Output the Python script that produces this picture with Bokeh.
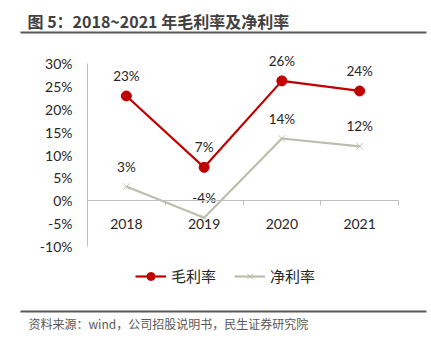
from bokeh.plotting import figure
from bokeh.models import (Range1d, LinearAxis, FixedTicker, Label, BoxAnnotation,
                          Legend, LegendItem, ColumnDataSource, CustomJSTickFormatter)
from bokeh.core.properties import value
from bokeh.embed import file_html
from bokeh.resources import INLINE

years = ["2018", "2019", "2020", "2021"]
gross_margin = [22.9, 7.3, 26.2, 24.0]
net_margin = [3.1, -3.7, 13.6, 11.9]
gross_labels = ["23%", "7%", "26%", "24%"]
net_labels = ["3%", "-4%", "14%", "12%"]
y_ticks = [-10, -5, 0, 5, 10, 15, 20, 25, 30]
y_min, y_max = -10, 30

RED = "#C00000"
GRAY = "#BDBDAE"
AXIS = "#BFBFBF"
TXT = "#262626"
FONT = "Lato"
CJK = "Noto Sans CJK SC"

W, H = 431, 341
# plot area in canvas pixels
PL, PR, PT, PB = 87, 398, 63, 246

n = len(years)
ppx = (PR - PL) / n
ppy = (PB - PT) / (y_max - y_min)
x_range = Range1d(-PL / ppx, n + (W - PR) / ppx)
y_range = Range1d(y_min - (H - PB) / ppy, y_max + PT / ppy)

p = figure(width=W, height=H, output_backend="svg", toolbar_location=None,
           x_range=x_range, y_range=y_range,
           min_border=0, x_axis_type=None, y_axis_type=None)
p.title.visible = False
p.outline_line_color = None
p.xgrid.visible = False
p.ygrid.visible = False
p.background_fill_color = "white"
p.border_fill_color = "white"

# y axis
yax = LinearAxis(ticker=FixedTicker(ticks=y_ticks), fixed_location=0, bounds=(y_min, y_max))
yax.formatter = CustomJSTickFormatter(code="return tick + '%';")
yax.axis_line_color = AXIS
yax.major_tick_line_color = None
yax.minor_tick_line_color = None
yax.major_label_text_font = FONT
yax.major_label_text_font_size = "14px"
yax.major_label_text_color = TXT
yax.major_label_standoff = 9
p.add_layout(yax, "left")

# x axis with tick marks between categories
xs = [i + 0.5 for i in range(n)]
xax = LinearAxis(ticker=FixedTicker(ticks=list(range(n + 1))), fixed_location=0, bounds=(0, n))
xax.axis_line_color = AXIS
xax.major_tick_line_color = AXIS
xax.major_tick_in = 0
xax.major_tick_out = 5
xax.minor_tick_line_color = None
xax.major_label_text_color = None
xax.major_label_text_font_size = "1px"
p.add_layout(xax, "below")

xlab = LinearAxis(ticker=FixedTicker(ticks=xs), fixed_location=0,
                  major_label_overrides={x: y for x, y in zip(xs, years)})
xlab.axis_line_color = None
xlab.major_tick_line_color = None
xlab.minor_tick_line_color = None
xlab.major_label_text_font = FONT
xlab.major_label_text_font_size = "14px"
xlab.major_label_text_color = TXT
xlab.major_label_standoff = 12
p.add_layout(xlab, "below")

src = ColumnDataSource(dict(x=xs, g=gross_margin, n=net_margin, gl=gross_labels, nl=net_labels))

gl = p.line("x", "g", source=src, line_color=RED, line_width=2.2)
gc = p.scatter("x", "g", source=src, size=10, fill_color=RED, line_color=RED)
nl = p.line("x", "n", source=src, line_color=GRAY, line_width=2.2)
nx = p.scatter("x", "n", source=src, marker="x", size=9, line_color=GRAY, line_width=1)

p.text("x", "g", text="gl", source=src, text_align="center", text_baseline="bottom",
       y_offset=-12, text_font=value(FONT), text_font_size="13.5px", text_color=TXT)
p.text("x", "n", text="nl", source=src, text_align="center", text_baseline="bottom",
       y_offset=-12, text_font=value(FONT), text_font_size="13.5px", text_color=TXT)

legend = Legend(items=[LegendItem(label="毛利率", renderers=[gl, gc]),
                       LegendItem(label="净利率", renderers=[nl, nx])],
                orientation="horizontal", location=(135, H - 286),
                label_text_font=CJK, label_text_font_size="15px", label_text_color=TXT,
                glyph_width=31, glyph_height=20, label_height=20,
                spacing=18, padding=0, margin=0, label_standoff=5,
                border_line_color=None, background_fill_alpha=0)
p.add_layout(legend, "center")

# title and footer (screen units, frame = whole canvas)
p.add_layout(Label(x=27, y=H - 20, x_units="screen", y_units="screen",
                   text="图 5：2018~2021 年毛利率及净利率", text_font=CJK,
                   text_font_style="bold", text_font_size="16px", text_color="#404040",
                   text_baseline="middle"))
p.add_layout(BoxAnnotation(left=20, right=426, top=H - 31, bottom=H - 33,
                           left_units="screen", right_units="screen",
                           top_units="screen", bottom_units="screen",
                           fill_color="#595959", fill_alpha=1, line_color=None))
p.add_layout(Label(x=28, y=H - 323, x_units="screen", y_units="screen",
                   text="资料来源：wind，公司招股说明书，民生证券研究院", text_font=CJK,
                   text_font_size="12px", text_color="#595959",
                   text_baseline="middle"))
p.add_layout(BoxAnnotation(left=20, right=426, top=H - 310, bottom=H - 312,
                           left_units="screen", right_units="screen",
                           top_units="screen", bottom_units="screen",
                           fill_color="#595959", fill_alpha=1, line_color=None))

open("out.html", "w").write(file_html(p, INLINE))
